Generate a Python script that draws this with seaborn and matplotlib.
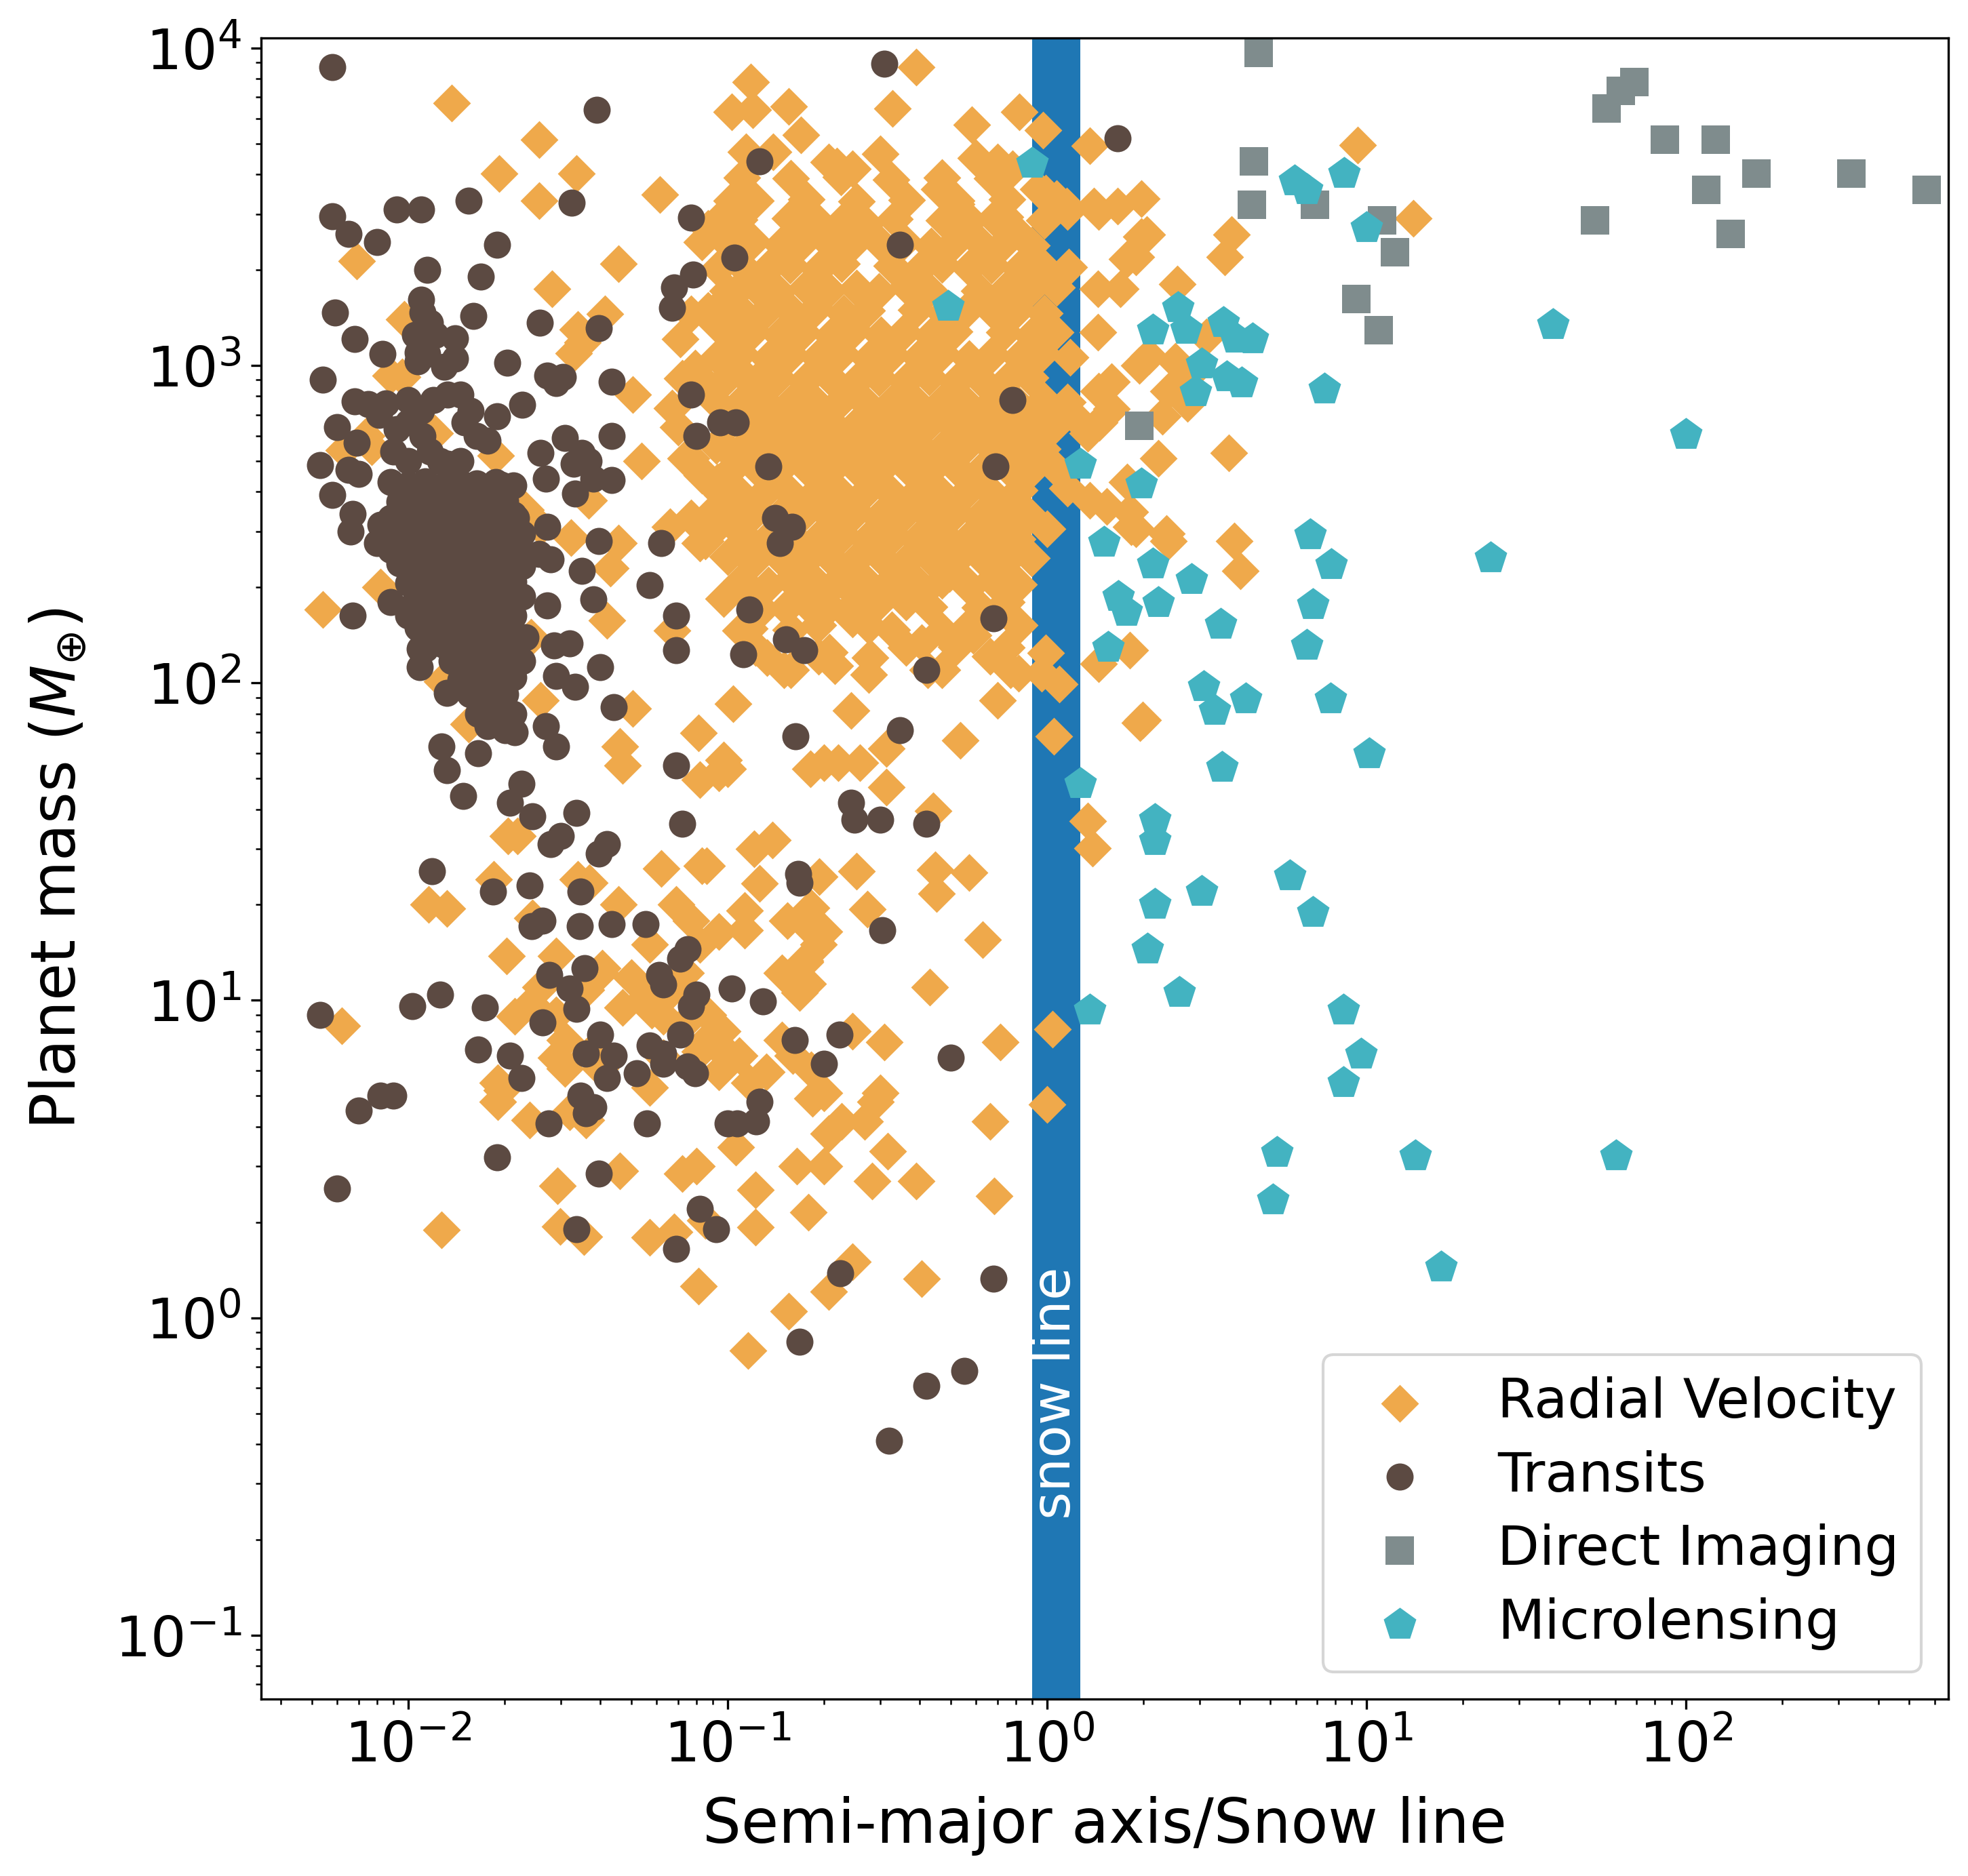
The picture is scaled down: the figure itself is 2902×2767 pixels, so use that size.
import matplotlib
matplotlib.use("Agg")
import matplotlib.pyplot as plt
import seaborn as sns
import pandas as pd

# (semi-major axis / snow line, planet mass in Earth masses)

radial_velocity = [
    # sparse points left of the main cloud
    (0.0137, 6700), (0.0257, 5150), (0.0193, 4030), (0.0337, 4030), (0.0257, 3300),
    (0.0614, 3450), (0.0069, 2130), (0.0455, 2090), (0.0282, 1740), (0.0413, 1450),
    (0.0339, 1300), (0.0330, 1090), (0.0352, 1180), (0.0096, 920), (0.0504, 810),
    (0.0121, 612), (0.0063, 540), (0.0077, 555), (0.0188, 520), (0.0216, 360),
    (0.0368, 376), (0.0538, 500), (0.077, 510), (0.083, 450), (0.070, 640),
    (0.067, 735), (0.1, 540), (0.093, 430), (0.104, 390), (0.090, 345),
    (0.114, 365), (0.066, 310), (0.085, 280), (0.1, 250), (0.0455, 275),
    (0.043, 230), (0.0324, 287), (0.0233, 350), (0.026, 310), (0.0097, 1400),
    (0.0088, 930), (0.0074, 600),
    # top edge of the cloud
    (0.118, 7800), (0.103, 6300), (0.12, 6400), (0.155, 6550), (0.17, 5330),
    (0.114, 4700), (0.139, 4700), (0.39, 8700), (0.328, 6460), (0.581, 5740),
    (0.82, 6300), (0.97, 5500), (1.36, 4920), (0.60, 4500), (0.70, 4370),
    (0.78, 4170), (0.22, 4250), (0.246, 4170), (0.30, 4630), (0.207, 4370),
    (0.083, 2450), (0.1, 2650), (0.109, 1740), (0.087, 1490), (0.1, 1520),
    (0.104, 1230), (0.095, 1060), (0.109, 960), (0.072, 910), (0.095, 2900),
    (0.46, 3600), (0.52, 3230), (0.56, 2930), (0.74, 2930), (0.80, 2650),
    (0.103, 3300), (0.087, 2700), (0.077, 1450), (0.091, 1360), (0.071, 1210),
    (0.079, 980), (0.089, 840), (0.074, 510), (0.084, 455), (0.096, 390),
    (0.077, 330), (0.091, 305), (0.082, 275),
    # right of the cloud and beyond the snow line
    (0.94, 3600), (1.15, 3170), (1.40, 3170), (1.66, 3170), (1.97, 3360),
    (1.97, 2550), (1.78, 2160), (1.44, 1740), (1.70, 1740), (2.56, 1800),
    (1.44, 1270), (2.23, 510), (1.78, 430), (1.34, 610), (1.54, 360),
    (1.83, 310), (2.36, 295), (3.7, 530), (9.4, 4950), (14.0, 2900),
    (1.45, 3050), (1.16, 3050), (0.99, 3480), (2.05, 2580), (1.90, 2200),
    (3.78, 2580), (3.6, 2200), (2.08, 1070), (2.52, 1030), (3.16, 1230),
    (2.75, 920), (2.40, 830), (2.75, 760), (1.45, 830), (1.59, 730),
    (1.27, 660), (1.82, 345), (2.40, 280), (1.90, 305), (3.85, 280),
    (4.03, 225), (1.16, 410), (1.36, 375), (1.0, 305), (1.82, 127),
    (1.45, 115), (1.99, 76.5), (0.70, 88), (1.59, 890), (1.94, 1000),
    (2.3, 690), (1.46, 660),
    # lower edge of the cloud
    (0.097, 184), (0.152, 172), (0.191, 194), (0.217, 205), (0.264, 215),
    (0.287, 173), (0.246, 159), (0.193, 121), (0.217, 113), (0.279, 120),
    (0.314, 200), (0.356, 211), (0.405, 191), (0.494, 221), (0.571, 200),
    (0.63, 163), (0.586, 141), (0.665, 121), (0.769, 110), (0.96, 107),
    (1.09, 99), (0.99, 124), (0.405, 134), (0.424, 110), (0.133, 120),
    (0.15, 110), (0.117, 148), (0.126, 168),
    # tens of Earth masses
    (0.081, 69.5), (0.097, 57), (0.094, 52), (0.1, 53.5), (0.082, 49.5),
    (0.182, 53.5), (0.2, 56), (0.222, 56), (0.26, 56), (0.314, 62),
    (0.314, 47), (0.244, 82), (0.535, 66), (0.44, 39.5), (1.05, 68),
    (1.95, 75), (0.138, 32), (0.121, 30), (0.086, 26.5), (0.126, 23.3),
    (0.113, 19.2), (0.113, 16.6), (0.154, 17.8), (0.194, 24.5), (0.183, 19.6),
    (0.175, 17.5), (0.2, 16.5), (0.193, 15), (0.175, 13.2), (0.178, 11.3),
    (0.253, 25.5), (0.274, 19.4), (0.447, 25.7), (0.45, 21.7), (0.571, 25.3),
    (0.63, 15.5), (0.43, 11), (1.34, 36.7), (1.39, 30.2), (0.077, 17.8),
    (0.074, 12.2), (0.0054, 170), (0.0082, 200), (0.0128, 101), (0.0155, 74),
    (0.021, 112), (0.026, 88), (0.0243, 139), (0.042, 157), (0.0504, 83),
    (0.046, 63), (0.047, 55), (0.104, 86), (0.067, 146), (0.0205, 33),
    (0.022, 33), (0.0116, 20), (0.0132, 19.5), (0.0185, 24), (0.034, 24),
    (0.037, 23.5), (0.0455, 20), (0.062, 26), (0.083, 26.5), (0.069, 20),
    (0.094, 16.5), (0.0203, 13.8), (0.029, 13.8), (0.0245, 18.2), (0.0405, 12.6),
    (0.057, 15), (0.082, 15), (0.168, 10.6), (0.175, 13.3), (0.148, 12.2),
    (0.040, 12.2), (0.050, 11.8), (0.026, 11), (0.036, 10.8),
    # a few Earth masses
    (0.309, 7.4), (0.246, 8.0), (0.715, 7.4), (1.04, 8.1), (0.096, 8.0),
    (0.109, 6.7), (0.094, 5.95), (0.117, 5.5), (0.132, 5.95), (0.16, 6.7),
    (0.183, 6.05), (0.2, 5.1), (0.3, 5.1), (0.087, 9.0), (0.047, 9.5),
    (0.056, 10.3), (0.067, 10.8), (0.082, 6.9), (0.1, 6.8), (0.058, 9.3),
    (0.063, 8.9), (0.031, 7.5), (0.029, 6.6), (0.037, 6.8), (0.040, 6.1),
    (0.0216, 8.9), (0.0243, 9.8), (0.0191, 5.5), (0.0062, 8.3), (0.029, 9.0),
    (0.0197, 5.2), (0.092, 7.2), (0.148, 7.5), (0.184, 4.9), (0.072, 8.3),
    (0.086, 7.5), (0.063, 6.6), (0.057, 5.3), (0.031, 6.1),
    (0.0127, 1.89), (0.0294, 2.6), (0.0299, 1.94), (0.0355, 1.8), (0.0191, 4.8),
    (0.024, 4.2), (0.032, 4.45), (0.036, 4.2), (0.046, 2.9), (0.057, 1.79),
    (0.068, 1.86), (0.072, 2.85), (0.080, 3.0), (0.081, 1.26), (0.085, 2.03),
    (0.106, 3.45), (0.122, 2.53), (0.122, 1.93), (0.165, 3.0), (0.2, 3.0),
    (0.179, 2.15), (0.207, 3.8), (0.227, 4.15), (0.269, 4.15), (0.317, 3.35),
    (0.284, 2.7), (0.39, 2.7), (0.665, 4.15), (0.684, 2.42), (0.405, 1.33),
    (0.246, 1.5), (0.207, 1.21), (0.155, 1.05), (0.116, 0.79), (1.0, 4.7),
    (0.29, 4.8),
    # the dense cloud of giant planets, row by row
    (0.111, 3900), (0.158, 3880), (0.226, 3920), (0.325, 3850), (0.468, 3900),
    (0.672, 3880),
    (0.122, 3300), (0.176, 3340), (0.253, 3290), (0.364, 3320), (0.52, 3300),
    (0.748, 3330), (1.07, 3350),
    (0.109, 2880), (0.157, 2900), (0.193, 2820), (0.231, 2870),
    (0.271, 2790), (0.333, 2890), (0.476, 2860), (0.56, 2800),
    (0.683, 2900), (0.98, 2870),
    (0.102, 2380), (0.12, 2460), (0.147, 2400), (0.172, 2450), (0.211, 2390),
    (0.248, 2440), (0.303, 2400), (0.357, 2460), (0.434, 2380), (0.511, 2430),
    (0.624, 2410), (0.737, 2450), (0.895, 2390),
    (0.0935, 2020), (0.11, 2080), (0.134, 2030), (0.157, 2070), (0.193, 2010),
    (0.227, 2090), (0.326, 2060), (0.398, 2000), (0.468, 2080),
    (0.57, 2030), (0.671, 2070), (0.819, 2020), (0.965, 2060), (1.17, 2040),
    (0.1, 1720), (0.122, 1770), (0.144, 1710), (0.176, 1760), (0.207, 1730),
    (0.253, 1750), (0.297, 1710), (0.363, 1770), (0.427, 1730),
    (0.613, 1720), (0.748, 1750), (0.882, 1730), (1.07, 1760),
    (0.0918, 1500), (0.112, 1460), (0.132, 1490), (0.16, 1470), (0.189, 1510),
    (0.231, 1460), (0.272, 1490), (0.39, 1500), (0.476, 1460),
    (0.56, 1490), (0.683, 1470), (0.805, 1500), (0.98, 1460),
    (0.102, 1240), (0.12, 1280), (0.146, 1250), (0.172, 1270), (0.211, 1240),
    (0.248, 1290), (0.302, 1250), (0.357, 1270), (0.433, 1240), (0.512, 1280),
    (0.736, 1270), (0.896, 1240), (1.06, 1270),
    (0.0932, 1060), (0.11, 1090), (0.134, 1050), (0.158, 1080), (0.192, 1060),
    (0.228, 1090), (0.276, 1050), (0.327, 1080), (0.397, 1060), (0.469, 1090),
    (0.569, 1050), (0.674, 1080), (0.817, 1060), (0.968, 1090), (1.18, 1060),
    (0.1, 920), (0.122, 890), (0.144, 915), (0.175, 895), (0.208, 920),
    (0.252, 890), (0.298, 915), (0.362, 895), (0.428, 920), (0.52, 890),
    (0.615, 915), (0.747, 895), (0.884, 915),
    (0.0929, 760), (0.112, 780), (0.133, 755), (0.16, 775), (0.19, 760),
    (0.23, 785), (0.273, 755), (0.331, 775), (0.392, 760), (0.475, 780),
    (0.562, 755), (0.681, 775), (0.808, 760), (0.978, 780), (1.16, 765),
    (0.102, 660), (0.12, 640), (0.146, 665), (0.173, 645), (0.21, 660),
    (0.249, 640), (0.302, 665), (0.358, 645), (0.432, 660), (0.513, 640),
    (0.622, 665), (0.739, 645), (0.893, 660), (1.06, 650),
    (0.0922, 560), (0.111, 545), (0.134, 565), (0.158, 548), (0.192, 558),
    (0.228, 545), (0.276, 565), (0.327, 550), (0.397, 560), (0.469, 545),
    (0.568, 565), (0.674, 548), (0.816, 558), (0.969, 545),
    (0.101, 462), (0.122, 478), (0.144, 465), (0.175, 480), (0.208, 462),
    (0.252, 476), (0.298, 465), (0.362, 480), (0.428, 462), (0.519, 476),
    (0.616, 465), (0.746, 480), (0.886, 465), (1.07, 472),
    (0.093, 405), (0.11, 392), (0.134, 408), (0.158, 394), (0.192, 404),
    (0.228, 392), (0.276, 408), (0.327, 395), (0.397, 405), (0.469, 392),
    (0.569, 406), (0.674, 395), (0.817, 404),
    (0.1, 335), (0.122, 345), (0.144, 332), (0.175, 344), (0.208, 336),
    (0.252, 346), (0.298, 333), (0.362, 344), (0.428, 336), (0.52, 346),
    (0.615, 333), (0.747, 344), (0.884, 336),
    (0.112, 292), (0.132, 282), (0.16, 290), (0.19, 283), (0.23, 293),
    (0.273, 282), (0.331, 291), (0.392, 283), (0.475, 292), (0.562, 282),
    (0.681, 290), (0.808, 284),
    (0.12, 240), (0.146, 249), (0.173, 239), (0.21, 248), (0.249, 240),
    (0.302, 249), (0.358, 239), (0.432, 248), (0.513, 240), (0.622, 249),
    (0.739, 240), (0.893, 247),
    (0.111, 210), (0.134, 203), (0.158, 211), (0.192, 204), (0.228, 210),
    (0.276, 203), (0.327, 211), (0.397, 204), (0.469, 210), (0.568, 203),
    (0.674, 211), (0.816, 204),
    (0.122, 179), (0.175, 180), (0.208, 174), (0.252, 179),
    (0.362, 180), (0.428, 174), (0.616, 173), (0.746, 180),
    (0.11, 146), (0.158, 147), (0.192, 152), (0.276, 151), (0.327, 147),
    (0.469, 146), (0.569, 151), (0.817, 152),
    (0.122, 129), (0.208, 125), (0.362, 129), (0.52, 130), (0.747, 129),
    (0.158, 110), (0.276, 106), (0.469, 110), (0.816, 107),
]

transits = [
    (0.0058, 8700), (0.31, 8900), (0.039, 6400), (0.126, 4400), (1.66, 5200),
    (0.0058, 2950), (0.0065, 2600), (0.008, 2450), (0.0092, 3100), (0.011, 3100),
    (0.0155, 3300), (0.0325, 3250), (0.077, 2920), (0.105, 2190), (0.078, 1930),
    (0.346, 2400), (0.019, 2400), (0.0115, 2000), (0.0169, 1900), (0.068, 1760),
    (0.067, 1520), (0.0059, 1470), (0.011, 1610), (0.016, 1430), (0.0259, 1360),
    (0.0396, 1310), (0.0068, 1210), (0.0083, 1085), (0.0111, 1470), (0.0117, 1360),
    (0.0105, 1250), (0.0122, 1250), (0.0107, 1100), (0.0115, 1085), (0.014, 1220),
    (0.014, 1050), (0.013, 990), (0.0107, 1030), (0.0204, 1020),
    (0.0054, 900), (0.077, 810), (0.08, 600), (0.095, 660), (0.106, 660),
    (0.134, 480), (0.0434, 890), (0.0273, 930), (0.0305, 920), (0.029, 880),
    (0.0228, 750), (0.0068, 770), (0.0075, 755), (0.0085, 760), (0.0081, 700),
    (0.006, 640), (0.0069, 570), (0.0053, 485), (0.0434, 600), (0.031, 590),
    (0.026, 530), (0.0368, 500), (0.0434, 435), (0.0333, 395), (0.0058, 390),
    (0.0067, 340), (0.0066, 300), (0.008, 275), (0.0096, 265), (0.0396, 280),
    (0.0273, 310), (0.062, 275), (0.146, 275), (0.141, 330), (0.159, 310),
    (0.057, 203), (0.035, 225), (0.038, 183), (0.069, 163), (0.117, 170),
    (0.0273, 175), (0.112, 123), (0.152, 137), (0.174, 127), (0.069, 127),
    (0.42, 110), (0.040, 112), (0.0333, 97), (0.0286, 131), (0.0067, 163),
    (0.0088, 180), (0.0109, 128), (0.0109, 112), (0.0132, 93), (0.044, 84),
    (0.78, 780), (0.69, 480), (0.68, 160), (0.0065, 470), (0.007, 455),
    (0.0082, 315), (0.01, 780), (0.011, 720), (0.012, 780), (0.0133, 810),
    (0.0146, 810), (0.0157, 720), (0.015, 660), (0.0164, 600), (0.0177, 580),
    (0.019, 690), (0.0092, 630), (0.010, 660), (0.0111, 600), (0.009, 535),
    (0.010, 500), (0.0117, 535), (0.0133, 490), (0.0146, 500), (0.0164, 425),
    (0.0196, 420), (0.0185, 390), (0.0153, 400), (0.0126, 500), (0.035, 530),
    (0.033, 490), (0.027, 440), (0.038, 440), (0.0218, 330), (0.0222, 275),
    (0.0257, 255), (0.028, 245), (0.029, 105), (0.032, 133), (0.0233, 139),
    (0.0104, 177),
    # the crowded hot-Jupiter clump
    (0.0088, 430), (0.0100, 420), (0.0113, 432), (0.0129, 418), (0.0146, 428),
    (0.0166, 421), (0.0188, 430), (0.0214, 419),
    (0.0094, 372), (0.0107, 384), (0.0121, 375), (0.0137, 382), (0.0156, 371),
    (0.0177, 380), (0.0201, 374),
    (0.0088, 330), (0.0100, 342), (0.0113, 333), (0.0129, 340), (0.0146, 331),
    (0.0166, 341), (0.0188, 334), (0.0214, 339),
    (0.0094, 302), (0.0107, 295), (0.0121, 301), (0.0137, 294), (0.0156, 303),
    (0.0177, 296), (0.0201, 300), (0.0228, 295),
    (0.0088, 262), (0.0100, 268), (0.0113, 261), (0.0129, 269), (0.0146, 263),
    (0.0166, 267), (0.0188, 262), (0.0214, 268),
    (0.0094, 238), (0.0107, 232), (0.0121, 237), (0.0137, 233), (0.0156, 238),
    (0.0177, 232), (0.0201, 236), (0.0228, 233),
    (0.0100, 206), (0.0113, 212), (0.0129, 207), (0.0146, 211), (0.0166, 206),
    (0.0188, 212), (0.0214, 208),
    (0.0107, 188), (0.0121, 184), (0.0137, 189), (0.0156, 184), (0.0177, 188),
    (0.0201, 185), (0.0228, 187),
    (0.0100, 163), (0.0113, 167), (0.0129, 163), (0.0146, 167), (0.0166, 164),
    (0.0188, 166), (0.0214, 163),
    (0.0107, 149), (0.0121, 145), (0.0137, 149), (0.0156, 145), (0.0177, 148),
    (0.0201, 146),
    (0.0113, 128), (0.0129, 132), (0.0146, 128), (0.0166, 131), (0.0188, 129),
    (0.0214, 131),
    (0.0137, 117), (0.0156, 114), (0.0177, 117), (0.0201, 115), (0.0228, 117),
    (0.0146, 102), (0.0166, 105), (0.0188, 102), (0.0214, 104),
    (0.0156, 92), (0.0177, 90), (0.0201, 92),
    (0.0166, 80), (0.0188, 82), (0.0214, 80),
    (0.0177, 73), (0.0201, 71),
    # Neptunes and super-Earths
    (0.0216, 70), (0.027, 73), (0.029, 63), (0.0127, 63), (0.0166, 60),
    (0.0149, 44), (0.0132, 53), (0.0226, 48), (0.0208, 42), (0.0245, 38),
    (0.0336, 39), (0.072, 36), (0.163, 68), (0.346, 71), (0.243, 42),
    (0.25, 37), (0.30, 37), (0.42, 36), (0.069, 55), (0.028, 31),
    (0.03, 33), (0.0396, 29), (0.042, 31), (0.0119, 25.5), (0.0184, 22),
    (0.024, 23), (0.0346, 22), (0.166, 25), (0.168, 23.5), (0.305, 16.6),
    (0.075, 14.5), (0.0244, 17.1), (0.0263, 17.8), (0.0345, 17.1), (0.0434, 17.4),
    (0.0554, 17.4),
    (0.0053, 9.0), (0.0103, 9.6), (0.0126, 10.4), (0.0174, 9.5), (0.0166, 7.0),
    (0.0208, 6.7), (0.0226, 5.7), (0.0263, 8.5), (0.0277, 12), (0.032, 10.9),
    (0.0336, 9.4), (0.0356, 12.6), (0.040, 7.8), (0.036, 6.8), (0.044, 6.7),
    (0.042, 5.7), (0.052, 5.9), (0.0346, 5.0), (0.038, 4.6), (0.036, 4.4),
    (0.0275, 4.1), (0.056, 4.1), (0.057, 7.2), (0.063, 6.8), (0.063, 6.3),
    (0.071, 13.5), (0.061, 12), (0.063, 11.2), (0.071, 7.8), (0.077, 9.6),
    (0.08, 10.4), (0.075, 6.2), (0.079, 5.9), (0.103, 10.9), (0.129, 9.9),
    (0.162, 7.5), (0.2, 6.3), (0.224, 7.8), (0.5, 6.6), (0.1, 4.1),
    (0.107, 4.1), (0.123, 4.15), (0.126, 4.8), (0.007, 4.5), (0.0082, 5.0),
    (0.009, 5.0), (0.006, 2.55), (0.019, 3.2), (0.0396, 2.85), (0.0336, 1.9),
    (0.082, 2.2), (0.092, 1.9), (0.069, 1.65), (0.225, 1.38), (0.68, 1.33),
    (0.168, 0.84), (0.42, 0.61), (0.55, 0.68), (0.32, 0.41),
]

direct_imaging = [
    (4.6, 9650), (4.45, 4400), (4.37, 3200), (6.9, 3200), (11.2, 2870),
    (12.3, 2270), (9.3, 1620), (10.9, 1290), (1.94, 645), (56.5, 6460),
    (62.5, 7340), (69, 7820), (85.7, 5140), (124, 5140), (166, 4030),
    (116, 3570), (52, 2870), (138, 2600), (330, 4030), (568, 3570),
]

microlensing = [
    (0.90, 4330), (0.49, 1535), (5.95, 3810), (6.5, 3570), (8.5, 4030),
    (10.0, 2720), (2.14, 1290), (2.57, 1520), (2.72, 1300), (3.56, 1360),
    (3.9, 1220), (4.4, 1210), (3.05, 1010), (2.92, 826), (3.65, 921),
    (4.07, 880), (7.4, 841), (38.4, 1340), (100, 606), (1.27, 487),
    (1.97, 422), (1.51, 277), (2.14, 237), (2.84, 211), (6.65, 293),
    (7.75, 235), (24.5, 248), (1.67, 187), (1.77, 168), (2.23, 179),
    (3.5, 153), (6.8, 176), (6.5, 131), (1.55, 129), (3.09, 97),
    (3.34, 82), (4.19, 89), (7.7, 89), (10.2, 59.6), (3.53, 54),
    (1.27, 48), (2.18, 37), (2.18, 31.8), (3.05, 22), (5.75, 24.6),
    (2.18, 20), (6.8, 18.9), (2.06, 14.5), (2.6, 10.6), (1.36, 9.3),
    (8.46, 9.3), (9.6, 6.76), (8.46, 5.49), (5.24, 3.32), (14.2, 3.24),
    (60.3, 3.24), (5.1, 2.35), (17.1, 1.44),
]

methods = ["Radial Velocity", "Transits", "Direct Imaging", "Microlensing"]
samples = [radial_velocity, transits, direct_imaging, microlensing]
colors = ["#EFA94B", "#5C4A42", "#7F8C8D", "#43B3C1"]
markers = ["D", "o", "s", "p"]
sizes = [90, 92, 106, 147]

snow_band = (0.9, 1.27)


def to_frame(points):
    return pd.DataFrame(points, columns=["a", "mass"])


fig = plt.figure(figsize=(2903 / 300, 2767 / 300), dpi=300)
ax = fig.add_axes([0.1327, 0.0943, 0.857, 0.8855])
ax.set_xscale("log")
ax.set_yscale("log")

ax.axvspan(snow_band[0], snow_band[1], color="#1F77B4", lw=0, zorder=0)

for name, pts, col, mk, sz in zip(methods, samples, colors, markers, sizes):
    df = to_frame(pts)
    sns.scatterplot(data=df, x="a", y="mass", marker=mk, s=sz, color=col,
                    linewidth=0, label=name, ax=ax, zorder=2)

ax.text(1.06, 0.58, "snow line", rotation=90, color="white", fontsize=19,
        ha="center", va="center", zorder=3)

ax.set_xlim(0.00347, 663)
ax.set_ylim(0.0629, 10760)
ax.tick_params(axis="both", which="major", labelsize=19.8)
ax.set_xlabel("Semi-major axis/Snow line", fontsize=21.5, labelpad=8)
ax.set_ylabel(r"Planet mass ($M_{\oplus}$)", fontsize=21.5, labelpad=9)

ax.legend(loc="lower right", fontsize=19.3, labelspacing=0.38)

fig.savefig("out.png", dpi=300)
